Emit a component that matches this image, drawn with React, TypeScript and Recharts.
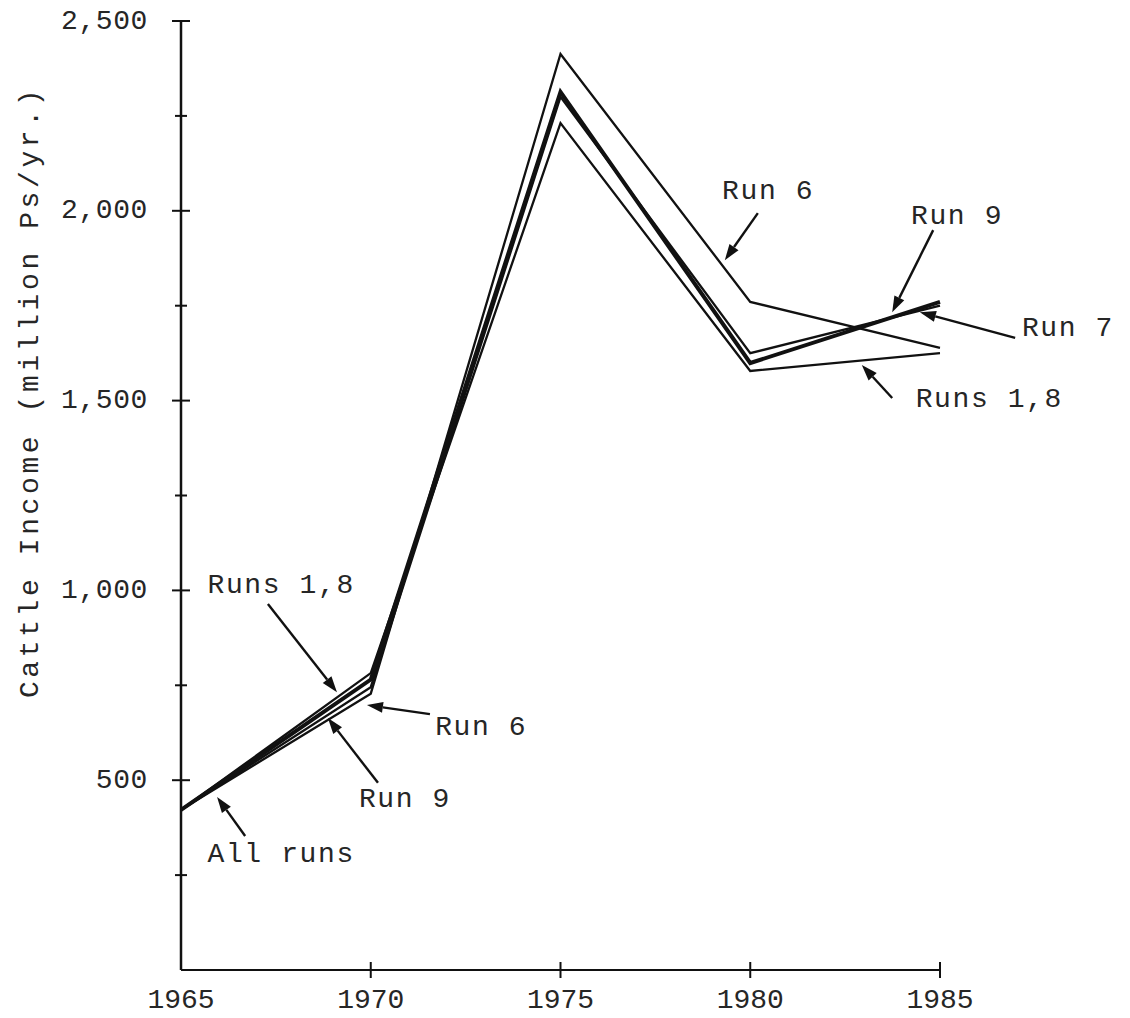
import React from "react";
import {
  LineChart,
  Line,
  XAxis,
  YAxis,
  ReferenceLine,
  ReferenceDot,
  Customized,
} from "recharts";

// ---- data ----
const years = [1965, 1970, 1975, 1980, 1985];
const runs18 = [422, 782, 2231, 1578, 1625];
const run6 = [422, 728, 2413, 1760, 1639];
const run7 = [422, 765, 2313, 1599, 1760];
const run9 = [422, 745, 2300, 1625, 1750];

const xTicks = [1965, 1970, 1975, 1980, 1985];
const yTicks = [250, 500, 750, 1000, 1250, 1500, 1750, 2000, 2250, 2500];

const yLabel = "Cattle Income (million Ps/yr.)";

// annotation texts (year, value)
const annoTexts = [
  { text: "Run 6", x: 1980.47, y: 2050 },
  { text: "Run 9", x: 1985.45, y: 1986 },
  { text: "Run 7", x: 1988.37, y: 1691 },
  { text: "Runs 1,8", x: 1986.3, y: 1502 },
  { text: "Runs 1,8", x: 1967.64, y: 1012 },
  { text: "Run 6", x: 1972.91, y: 640 },
  { text: "Run 9", x: 1970.9, y: 448 },
  { text: "All runs", x: 1967.64, y: 303 },
];

// annotation arrows: tail -> tip (year, value)
const annoArrows = [
  { x1: 1980.2, y1: 1994, x2: 1979.33, y2: 1870 },
  { x1: 1984.82, y1: 1949, x2: 1983.74, y2: 1733 },
  { x1: 1986.98, y1: 1665, x2: 1984.47, y2: 1733 },
  { x1: 1983.74, y1: 1507, x2: 1982.94, y2: 1594 },
  { x1: 1967.29, y1: 964, x2: 1969.11, y2: 732 },
  { x1: 1971.56, y1: 674, x2: 1969.9, y2: 698 },
  { x1: 1970.19, y1: 493, x2: 1968.87, y2: 664 },
  { x1: 1966.69, y1: 353, x2: 1965.95, y2: 456 },
];

const data = years.map((yr, i) => ({
  year: yr,
  runs18: runs18[i],
  run6: run6[i],
  run7: run7[i],
  run9: run9[i],
}));

const FONT = "'Liberation Mono', 'DejaVu Sans Mono', monospace";
const INK = "#111111";
const TXT = "#262626";

const YTick = (props: any) => {
  const { x, y, payload } = props;
  const v = payload.value;
  const major = v % 500 === 0;
  const half = major ? 9 : 6;
  return (
    <g>
      <line x1={x - half} x2={x + half} y1={y} y2={y} stroke={INK} strokeWidth={2} />
      {major && (
        <text
          x={x - 33}
          y={y}
          textAnchor="end"
          dominantBaseline="central"
          fontFamily={FONT}
          fontSize={28}
          letterSpacing={0.6}
          fill={TXT}
        >
          {v.toLocaleString("en-US")}
        </text>
      )}
    </g>
  );
};

const XTick = (props: any) => {
  const { x, y, payload } = props;
  const v = payload.value;
  return (
    <g>
      {v !== 1965 && (
        <line x1={x} x2={x} y1={y - 8} y2={y + 8} stroke={INK} strokeWidth={2} />
      )}
      <text
        x={x}
        y={y + 30}
        textAnchor="middle"
        dominantBaseline="central"
        fontFamily={FONT}
        fontSize={28}
        fill={TXT}
      >
        {v}
      </text>
    </g>
  );
};

const ArrowShape = (p: any) => {
  const { x1, y1, x2, y2 } = p;
  if ([x1, y1, x2, y2].some((n) => typeof n !== "number" || isNaN(n))) return null;
  const dx = x2 - x1;
  const dy = y2 - y1;
  const len = Math.sqrt(dx * dx + dy * dy) || 1;
  const ux = dx / len;
  const uy = dy / len;
  const hl = 16;
  const hw = 5.5;
  const bx = x2 - ux * hl;
  const by = y2 - uy * hl;
  const pts = `${x2},${y2} ${bx - uy * hw},${by + ux * hw} ${bx + uy * hw},${by - ux * hw}`;
  return (
    <g>
      <line x1={x1} y1={y1} x2={bx} y2={by} stroke={INK} strokeWidth={2.4} />
      <polygon points={pts} fill={INK} />
    </g>
  );
};

const TextShape = (label: string) => (p: any) => (
  <text
    x={p.cx}
    y={p.cy}
    textAnchor="middle"
    dominantBaseline="central"
    fontFamily={FONT}
    fontSize={28}
    letterSpacing={1.6}
    fill={TXT}
  >
    {label}
  </text>
);

const YTitle = () => (
  <text
    x={30}
    y={392}
    transform="rotate(-90 30 392)"
    textAnchor="middle"
    dominantBaseline="central"
    fontFamily={FONT}
    fontSize={28}
    letterSpacing={3.6}
    fill={TXT}
  >
    {yLabel}
  </text>
);

export default function App() {
  return (
    <div style={{ width: 1130, height: 1018, background: "#fff" }}>
      <style>{"body{margin:0;background:#fff;}"}</style>
      <LineChart
        width={1130}
        height={1018}
        data={data}
        margin={{ top: 21, right: 190, bottom: 0, left: 101 }}
      >
        <XAxis
          dataKey="year"
          type="number"
          domain={[1965, 1985]}
          ticks={xTicks}
          tick={<XTick />}
          tickLine={false}
          tickSize={0}
          tickMargin={0}
          height={48}
          axisLine={{ stroke: INK, strokeWidth: 2 }}
          interval={0}
        />
        <YAxis
          type="number"
          domain={[0, 2500]}
          ticks={yTicks}
          tick={<YTick />}
          tickLine={false}
          tickSize={0}
          tickMargin={0}
          width={80}
          axisLine={{ stroke: INK, strokeWidth: 2.5 }}
          interval={0}
        />
        <Line dataKey="runs18" type="linear" stroke={INK} strokeWidth={2.3} dot={false} isAnimationActive={false} />
        <Line dataKey="run6" type="linear" stroke={INK} strokeWidth={2.3} dot={false} isAnimationActive={false} />
        <Line dataKey="run9" type="linear" stroke={INK} strokeWidth={2.3} dot={false} isAnimationActive={false} />
        <Line dataKey="run7" type="linear" stroke={INK} strokeWidth={4} dot={false} isAnimationActive={false} />
        {annoArrows.map((a, i) => (
          <ReferenceLine
            key={"a" + i}
            segment={[
              { x: a.x1, y: a.y1 },
              { x: a.x2, y: a.y2 },
            ]}
            ifOverflow="visible"
            shape={ArrowShape}
          />
        ))}
        {annoTexts.map((t, i) => (
          <ReferenceDot
            key={"t" + i}
            x={t.x}
            y={t.y}
            r={0}
            ifOverflow="visible"
            shape={TextShape(t.text)}
          />
        ))}
        <Customized component={YTitle} />
      </LineChart>
    </div>
  );
}
